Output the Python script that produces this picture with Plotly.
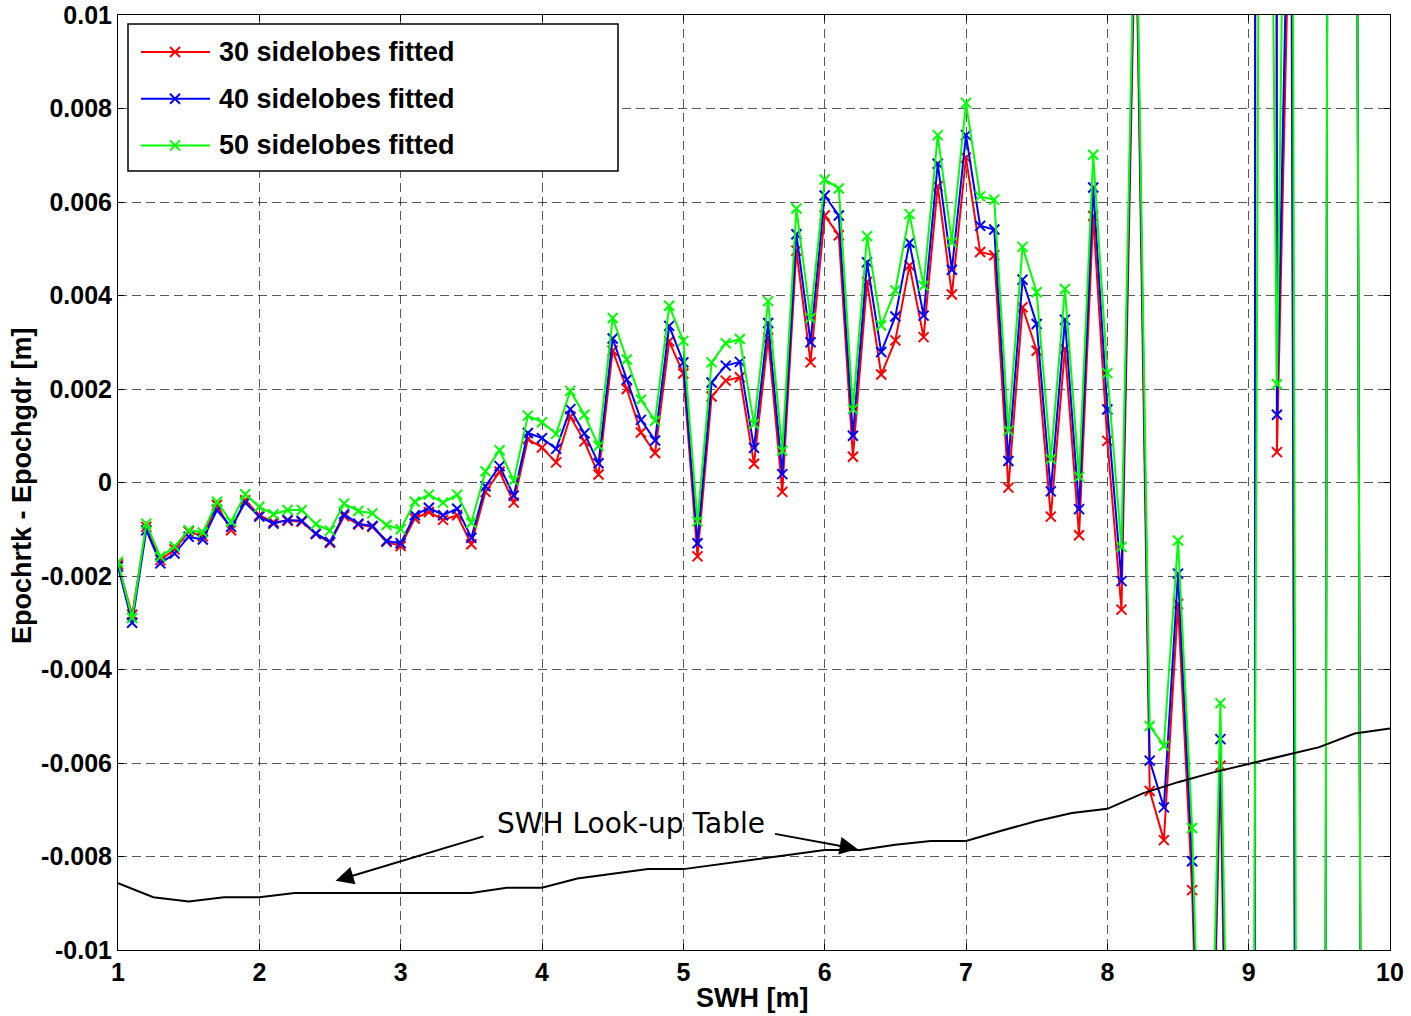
import plotly.graph_objects as go

# ---------------- data ----------------
swh = [1.0, 1.1, 1.2, 1.3, 1.4, 1.5, 1.6, 1.7, 1.8, 1.9,
       2.0, 2.1, 2.2, 2.3, 2.4, 2.5, 2.6, 2.7, 2.8, 2.9,
       3.0, 3.1, 3.2, 3.3, 3.4, 3.5, 3.6, 3.7, 3.8, 3.9,
       4.0, 4.1, 4.2, 4.3, 4.4, 4.5, 4.6, 4.7, 4.8, 4.9,
       5.0, 5.1, 5.2, 5.3, 5.4, 5.5, 5.6, 5.7, 5.8, 5.9,
       6.0, 6.1, 6.2, 6.3, 6.4, 6.5, 6.6, 6.7, 6.8, 6.9,
       7.0, 7.1, 7.2, 7.3, 7.4, 7.5, 7.6, 7.7, 7.8, 7.9,
       8.0, 8.1, 8.2, 8.3, 8.4, 8.5, 8.6, 8.7, 8.8, 8.9,
       9.0, 9.1, 9.2, 9.3, 9.4, 9.5, 9.6, 9.7, 9.8, 9.9, 10.0]

fit30 = [-0.00175, -0.00283, -0.00095, -0.00166, -0.00143, -0.00105, -0.00115, -0.00048, -0.00102, -0.00038,
         -0.00070, -0.00085, -0.00082, -0.00084, -0.00110, -0.00129, -0.00072, -0.00090, -0.00095, -0.00127,
         -0.00136, -0.00077, -0.00063, -0.00080, -0.00070, -0.00132, -0.00020, 0.00023, -0.00043, 0.00093,
         0.00075, 0.00043, 0.00141, 0.00088, 0.00017, 0.00282, 0.00200, 0.00107, 0.00063, 0.00302,
         0.00233, -0.00158, 0.00184, 0.00218, 0.00225, 0.00040, 0.00309, -0.00020, 0.00496, 0.00257,
         0.00571, 0.00529, 0.00055, 0.00429, 0.00231, 0.00304, 0.00464, 0.00311, 0.00634, 0.00402,
         0.00695, 0.00493, 0.00486, -0.00011, 0.00375, 0.00282, -0.00073, 0.00286, -0.00113, 0.00570,
         0.00089, -0.00272, 0.0125, -0.0066, -0.00765, -0.0026, -0.00872, -0.019, -0.00606, -0.025,
         -0.45, 0.55, 0.00065, 0.014, -0.08, -0.1, 0.1, 0.08, -0.02, -0.05, -0.03]

fit40 = [-0.00180, -0.00300, -0.00102, -0.00173, -0.00152, -0.00116, -0.00122, -0.00059, -0.00095, -0.00043,
         -0.00073, -0.00088, -0.00080, -0.00082, -0.00109, -0.00127, -0.00068, -0.00088, -0.00093, -0.00125,
         -0.00130, -0.00070, -0.00054, -0.00070, -0.00056, -0.00118, -0.00008, 0.00035, -0.00028, 0.00106,
         0.00095, 0.00072, 0.00157, 0.00105, 0.00041, 0.00308, 0.00220, 0.00134, 0.00090, 0.00335,
         0.00257, -0.00130, 0.00214, 0.00250, 0.00258, 0.00074, 0.00341, 0.00018, 0.00531, 0.00300,
         0.00614, 0.00571, 0.00100, 0.00471, 0.00279, 0.00355, 0.00513, 0.00357, 0.00682, 0.00455,
         0.00743, 0.00549, 0.00541, 0.00046, 0.00434, 0.00339, -0.00019, 0.00348, -0.00057, 0.00631,
         0.00156, -0.00211, 0.0130, -0.00595, -0.00695, -0.00195, -0.00810, -0.0185, -0.00549, -0.023,
         -0.45, 0.55, 0.00145, 0.016, -0.08, -0.1, 0.1, 0.08, -0.02, -0.05, -0.03]

fit50 = [-0.00170, -0.00290, -0.00088, -0.00159, -0.00137, -0.00102, -0.00107, -0.00041, -0.00084, -0.00025,
         -0.00052, -0.00068, -0.00059, -0.00059, -0.00089, -0.00103, -0.00045, -0.00061, -0.00066, -0.00091,
         -0.00100, -0.00041, -0.00026, -0.00043, -0.00026, -0.00086, 0.00024, 0.00069, 0.00004, 0.00143,
         0.00129, 0.00104, 0.00196, 0.00145, 0.00078, 0.00352, 0.00263, 0.00177, 0.00132, 0.00378,
         0.00303, -0.00083, 0.00257, 0.00298, 0.00307, 0.00125, 0.00388, 0.00068, 0.00586, 0.00352,
         0.00648, 0.00629, 0.00157, 0.00527, 0.00336, 0.00411, 0.00574, 0.00421, 0.00743, 0.00514,
         0.00812, 0.00612, 0.00605, 0.00111, 0.00504, 0.00407, 0.00050, 0.00414, 0.00012, 0.00701,
         0.00234, -0.00138, 0.0135, -0.00521, -0.00563, -0.00124, -0.00739, -0.018, -0.00472, -0.021,
         -0.0386, 0.0328, 0.00210, 0.0253, -0.08, -0.1, 0.1, 0.08, -0.02, -0.05, -0.03]

lut_swh = [1.0, 1.25, 1.5, 1.75, 2.0, 2.25, 2.5, 2.75, 3.0, 3.25, 3.5, 3.75, 4.0, 4.25, 4.5,
           4.75, 5.0, 5.25, 5.5, 5.75, 6.0, 6.25, 6.5, 6.75, 7.0, 7.25, 7.5, 7.75, 8.0, 8.25,
           8.5, 8.75, 9.0, 9.25, 9.5, 9.75, 10.0]
lut_val = [-0.00857, -0.00887, -0.00896, -0.00887, -0.00887, -0.00878, -0.00878, -0.00878, -0.00878,
           -0.00878, -0.00878, -0.00867, -0.00867, -0.00847, -0.00837, -0.00827, -0.00827, -0.00817,
           -0.00806, -0.00796, -0.00786, -0.00786, -0.00775, -0.00767, -0.00767, -0.00745, -0.00724,
           -0.00707, -0.00698, -0.00665, -0.00641, -0.00620, -0.00602, -0.00583, -0.00566, -0.00537,
           -0.00526]

series_names = ["30 sidelobes fitted", "40 sidelobes fitted", "50 sidelobes fitted"]
series_colors = ["#FF0000", "#0000FF", "#00FF00"]

x_ticks = [1, 2, 3, 4, 5, 6, 7, 8, 9, 10]
x_ticktext = ["1", "2", "3", "4", "5", "6", "7", "8", "9", "10"]
y_ticks = [0.01, 0.008, 0.006, 0.004, 0.002, 0, -0.002, -0.004, -0.006, -0.008, -0.01]
y_ticktext = ["0.01", "0.008", "0.006", "0.004", "0.002", "0", "-0.002", "-0.004", "-0.006", "-0.008", "-0.01"]

# ---------------- layout geometry ----------------
W, H = 1411, 1016
L, R, T, B = 118, 21, 15, 66
PW, PH = W - L - R, H - T - B


def px(xp):
    return (xp - L) / PW


def py(yp):
    return (H - B - yp) / PH


FONT = "Arial, Liberation Sans, Helvetica, sans-serif"

fig = go.Figure()

for vals, name, col in zip([fit30, fit40, fit50], series_names, series_colors):
    fig.add_trace(go.Scatter(
        x=swh, y=vals, mode="lines+markers", name=name,
        line=dict(color=col, width=2),
        marker=dict(symbol="x-thin", size=10, color=col, line=dict(color=col, width=2)),
        showlegend=False,
    ))

fig.add_trace(go.Scatter(
    x=lut_swh, y=lut_val, mode="lines", name="SWH Look-up Table",
    line=dict(color="black", width=2), showlegend=False,
))

axis_common = dict(
    showline=True, linecolor="black", linewidth=1, mirror="ticks",
    ticks="inside", ticklen=6, tickcolor="black",
    showgrid=True, gridcolor="rgba(0,0,0,0.65)", gridwidth=1, griddash="9px,5px",
    zeroline=False, automargin=False,
    tickfont=dict(family=FONT, size=25, color="black", weight="bold"),
)

fig.update_layout(
    width=W, height=H,
    margin=dict(l=L, r=R, t=T, b=B, pad=0, autoexpand=False),
    paper_bgcolor="white", plot_bgcolor="white",
    showlegend=False,
    xaxis=dict(range=[1, 10], tickvals=x_ticks, ticktext=x_ticktext, **axis_common),
    yaxis=dict(range=[-0.01, 0.01], tickvals=y_ticks, ticktext=y_ticktext, **axis_common),
)

# axis titles
fig.add_annotation(text="SWH [m]", xref="paper", yref="paper", x=px(752), y=py(998),
                   showarrow=False, xanchor="center", yanchor="middle",
                   font=dict(family=FONT, size=27, color="black", weight="bold"))
fig.add_annotation(text="Epochrtk - Epochgdr [m]", xref="paper", yref="paper", x=px(22), y=py(486),
                   showarrow=False, xanchor="center", yanchor="middle", textangle=-90,
                   font=dict(family=FONT, size=27, color="black", weight="bold"))

# manual legend
fig.add_shape(type="rect", xref="paper", yref="paper", x0=px(128), x1=px(618), y0=py(171), y1=py(24),
              line=dict(color="black", width=1.5), fillcolor="white", layer="above")
for i, (name, col) in enumerate(zip(series_names, series_colors)):
    yy = 52 + i * 46.7
    fig.add_shape(type="line", xref="paper", yref="paper", x0=px(141), x1=px(210), y0=py(yy), y1=py(yy),
                  line=dict(color=col, width=2), layer="above")
    fig.add_shape(type="line", xref="paper", yref="paper", x0=px(170), x1=px(180), y0=py(yy - 5), y1=py(yy + 5),
                  line=dict(color=col, width=2), layer="above")
    fig.add_shape(type="line", xref="paper", yref="paper", x0=px(170), x1=px(180), y0=py(yy + 5), y1=py(yy - 5),
                  line=dict(color=col, width=2), layer="above")
    fig.add_annotation(text=name, xref="paper", yref="paper", x=px(217), y=py(yy),
                       showarrow=False, xanchor="left", yanchor="middle",
                       font=dict(family=FONT, size=27, color="black", weight="bold"))

# look-up table annotation with arrows
fig.add_annotation(text="SWH Look-up Table", xref="paper", yref="paper", x=px(631), y=py(823),
                   showarrow=False, xanchor="center", yanchor="middle",
                   font=dict(family="DejaVu Sans, sans-serif", size=28, color="black"))
fig.add_annotation(text="", x=2.54, y=-0.00852, ax=3.597, ay=-0.00756, axref="x", ayref="y",
                   showarrow=True, arrowhead=2, arrowsize=1.8, arrowwidth=2, arrowcolor="black")
fig.add_annotation(text="", x=6.233, y=-0.00784, ax=5.638, ay=-0.00751, axref="x", ayref="y",
                   showarrow=True, arrowhead=2, arrowsize=1.8, arrowwidth=2, arrowcolor="black")

fig.write_html("out.html")
